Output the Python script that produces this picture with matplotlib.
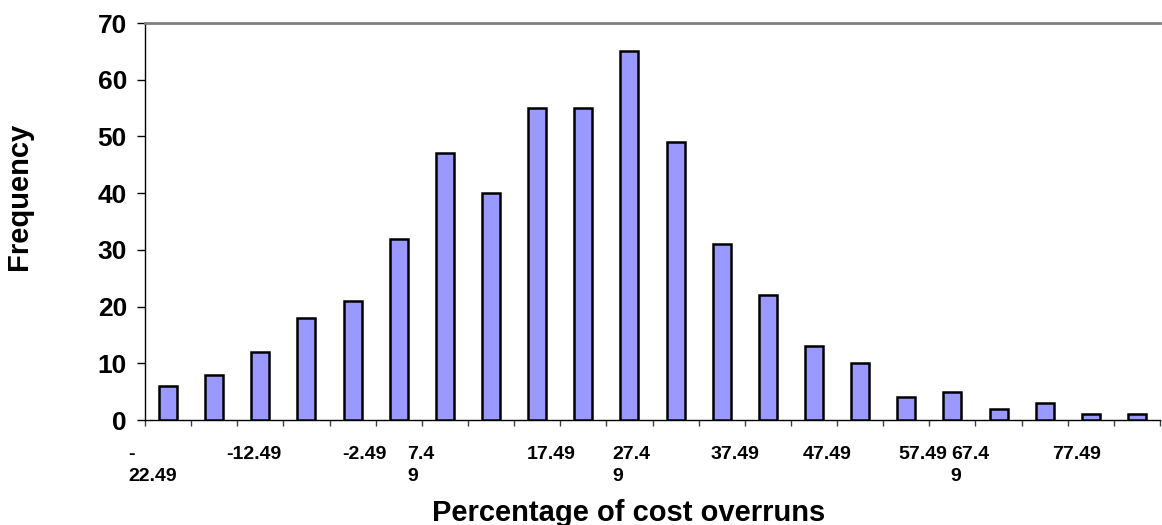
import numpy as np
import matplotlib
matplotlib.use("Agg")
import matplotlib.pyplot as plt

# histogram of cost overruns, bins 5 wide starting at -22.49
bin_start = [-22.49, -17.49, -12.49, -7.49, -2.49, 2.49, 7.49, 12.49, 17.49, 22.49, 27.49,
             32.49, 37.49, 42.49, 47.49, 52.49, 57.49, 62.49, 67.49, 72.49, 77.49, 82.49]
frequency = [6, 8, 12, 18, 21, 32, 47, 40, 55, 55, 65, 49, 31, 22, 13, 10, 4, 5, 2, 3, 1, 1]

# Excel only printed every other label, some wrapped
label_bins = [0, 2, 4, 6, 8, 10, 12, 14, 16, 18, 20]
label_text = ["-\n22.49", "-12.49", "-2.49", "7.4\n9", "17.49", "27.4\n9",
              "37.49", "47.49", "57.49", "67.4\n9", "77.49"]
# how far each label sits off its bar in the original layout (category units)
label_shift = [-0.33, -0.14, 0.25, -0.52, 0.3, 0.04, 0.28, 0.28, 0.35, -0.62, -0.3]

plt.rcParams['font.family'] = ['Liberation Sans', 'DejaVu Sans']
plt.rcParams['font.weight'] = 'bold'

fig = plt.figure(figsize=(11.62, 5.25), dpi=100)
ax = fig.add_axes([145 / 1162, 1 - 420 / 525, 1015 / 1162, 397 / 525])

x = np.arange(len(frequency))
ax.bar(x, frequency, width=0.39, color='#9999FF', edgecolor='black', linewidth=1.8, zorder=3)

ax.set_xlim(-0.5, len(frequency) - 0.5)
ax.set_ylim(0, 70)
ax.set_yticks(range(0, 71, 10))
ax.tick_params(axis='y', direction='out', length=6, width=1, pad=7, labelsize=19)

# tick marks between categories, labels placed separately
ax.set_xticks(np.arange(-0.5, len(frequency), 1.0), minor=True)
ax.set_xticks([b + s for b, s in zip(label_bins, label_shift)])
ax.set_xticklabels(label_text, fontsize=14, multialignment='left', linespacing=1.35)
ax.tick_params(axis='x', which='major', length=0, pad=19)
ax.tick_params(axis='x', which='minor', direction='out', length=4, width=1, color='#404040')

ax.spines['right'].set_visible(False)
ax.spines['top'].set_color('#808080')
ax.spines['top'].set_linewidth(2)
ax.spines['left'].set_linewidth(1)
ax.spines['bottom'].set_linewidth(1)

ax.set_ylabel("Frequency", fontsize=21, fontweight='bold')
ax.yaxis.set_label_coords(-0.110, 0.563)
ax.set_xlabel("Percentage of cost overruns", fontsize=21, fontweight='bold')
ax.xaxis.set_label_coords(0.476, -0.198)

fig.savefig("out.png", dpi=100)
